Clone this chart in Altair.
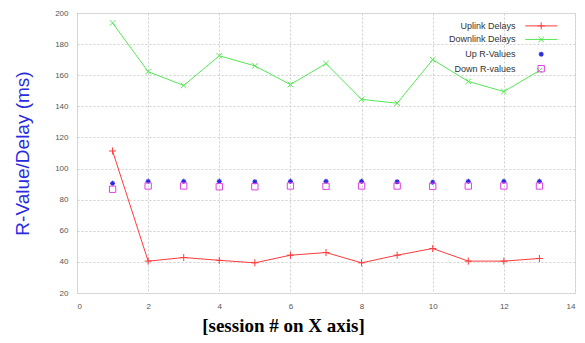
import altair as alt
import pandas as pd

sessions = list(range(1, 14))
uplink = [111.3, 40.5, 42.8, 41, 39.4, 44.3, 46, 39.4, 44.3, 48.6, 40.5, 40.5, 42.2]
downlink = [193.6, 162.3, 153.4, 172.5, 166, 154, 167.5, 144.5, 142, 170, 156, 149.5, 163]
up_r = [90.5, 91.8, 91.8, 91.8, 91.5, 91.8, 91.8, 91.8, 91.5, 91.2, 91.8, 91.8, 91.8]
down_r = [86.7, 88.8, 88.8, 88.3, 88.3, 88.8, 88.6, 88.8, 88.8, 88.6, 88.8, 88.8, 88.8]

x_ticks = [0, 2, 4, 6, 8, 10, 12, 14]
y_ticks = [20, 40, 60, 80, 100, 120, 140, 160, 180, 200]

legend_labels = ["Uplink Delays", "Downlink Delays", "Up R-Values", "Down R-values"]
legend_y = [191.7, 183.0, 173.5, 164.2]

RED = "#ff3b3b"
GREEN = "#55e855"
BLUE = "#2a2ae0"
MAGENTA = "#e040e0"

PLUS = "M-1,0L1,0M0,-1L0,1"
CROSS = "M-1,-1L1,1M-1,1L1,-1"
STAR = "M-1,0L1,0M0,-1L0,1M-0.7,-0.7L0.7,0.7M-0.7,0.7L0.7,-0.7"

df = pd.DataFrame({"s": sessions, "up": uplink, "down": downlink, "upr": up_r, "downr": down_r})

xs = alt.Scale(domain=[0, 14], nice=False)
ys = alt.Scale(domain=[20, 200], nice=False)

x_axis = alt.Axis(values=x_ticks, title="[session # on X axis]", titleFont="Liberation Serif",
                  titleFontSize=19, titleFontWeight="bold", titleColor="#000",
                  titleX=206, titlePadding=6, labelOverlap=False,
                  labelFont="Liberation Sans", labelFontSize=8, labelColor="#555",
                  labelPadding=9, ticks=False, domain=False,
                  grid=True, gridDash=[2, 2], gridColor="#cfcfcf")
y_axis = alt.Axis(values=y_ticks, title="R-Value/Delay (ms)", titleFont="Liberation Sans",
                  titleFontSize=19, titleFontWeight="normal", titleColor=BLUE,
                  titlePadding=22, labelOverlap=False,
                  labelFont="Liberation Sans", labelFontSize=8, labelColor="#555",
                  labelPadding=9, ticks=False, domain=False,
                  grid=True, gridDash=[2, 2], gridColor="#cfcfcf")


def X(f):
    return alt.X(f, scale=xs, axis=x_axis)


def Y(f):
    return alt.Y(f, scale=ys, axis=y_axis)


base = alt.Chart(df)

up_line = base.mark_line(color=RED, strokeWidth=1).encode(x=X("s:Q"), y=Y("up:Q"))
up_pts = base.mark_point(shape=PLUS, color=RED, size=50, strokeWidth=1, filled=False, opacity=1).encode(
    x=X("s:Q"), y=Y("up:Q"))
dn_line = base.mark_line(color=GREEN, strokeWidth=1).encode(x=X("s:Q"), y=Y("down:Q"))
dn_pts = base.mark_point(shape=CROSS, color=GREEN, size=30, strokeWidth=1, filled=False, opacity=1).encode(
    x=X("s:Q"), y=Y("down:Q"))
upr_pts = base.mark_point(shape=STAR, color=BLUE, size=25, strokeWidth=1.2, filled=False, opacity=1).encode(
    x=X("s:Q"), y=Y("upr:Q"))
dnr_pts = base.mark_point(shape="square", color=MAGENTA, size=40, strokeWidth=1, filled=False, opacity=1).encode(
    x=X("s:Q"), y=Y("downr:Q"))

leg = pd.DataFrame({"label": legend_labels, "y": legend_y,
                    "tx": [12.33] * 4, "x1": [12.6] * 4, "x2": [13.5] * 4, "xm": [13.05] * 4})
lbase = alt.Chart(leg)
leg_text = lbase.mark_text(align="right", baseline="middle", font="Liberation Sans", fontSize=9, color="#333").encode(
    x=X("tx:Q"), y=Y("y:Q"), text="label:N")
leg_lines = lbase.transform_filter("datum.label == 'Uplink Delays' || datum.label == 'Downlink Delays'").mark_rule(strokeWidth=1).encode(
    x=X("x1:Q"), x2="x2:Q", y=Y("y:Q"),
    color=alt.Color("label:N", scale=alt.Scale(domain=legend_labels[:2], range=[RED, GREEN]), legend=None))
leg_m1 = lbase.transform_filter("datum.label == 'Uplink Delays'").mark_point(shape=PLUS, color=RED, size=50, strokeWidth=1, opacity=1).encode(
    x=X("xm:Q"), y=Y("y:Q"))
leg_m2 = lbase.transform_filter("datum.label == 'Downlink Delays'").mark_point(shape=CROSS, color=GREEN, size=30, strokeWidth=1, opacity=1).encode(
    x=X("xm:Q"), y=Y("y:Q"))
leg_m3 = lbase.transform_filter("datum.label == 'Up R-Values'").mark_point(shape=STAR, color=BLUE, size=25, strokeWidth=1.2, opacity=1).encode(
    x=X("xm:Q"), y=Y("y:Q"))
leg_m4 = lbase.transform_filter("datum.label == 'Down R-values'").mark_point(shape="square", color=MAGENTA, size=40, strokeWidth=1, opacity=1).encode(
    x=X("xm:Q"), y=Y("y:Q"))

chart = alt.layer(up_line, dn_line, up_pts, dn_pts, upr_pts, dnr_pts,
                  leg_text, leg_lines, leg_m1, leg_m2, leg_m3, leg_m4).properties(
    width=498, height=280,
    autosize=alt.AutoSizeParams(type="none"),
    padding={"left": 69, "top": 5, "right": 2, "bottom": 45}
).configure_view(stroke="#888", strokeWidth=1).configure_axis(labelOverlap=False).configure(background="white")

chart.save("out.html", embed_options={"renderer": "svg", "actions": False})
